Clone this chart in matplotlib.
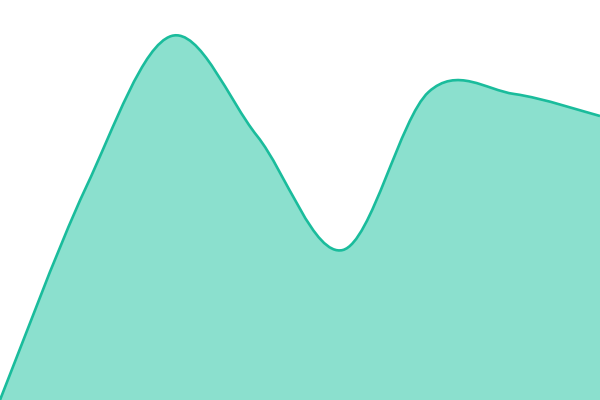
import matplotlib
matplotlib.use('Agg')
import matplotlib.pyplot as plt
from matplotlib.path import Path
from matplotlib.patches import PathPatch

# values (0 = bottom, 100 = top)
positions = [0, 1, 2, 3, 4, 5, 6, 7]
values = [0, 53, 91, 66, 37.5, 77, 76.5, 71]

line_color = '#1abc9c'
fill_color = '#8be0ce'


def smooth_path(xs, ys):
    # catmull-rom through the points, drawn as cubic bezier segments
    pts = list(zip(xs, ys))
    ext = [pts[0]] + pts + [pts[-1]]
    verts = [pts[0]]
    codes = [Path.MOVETO]
    for i in range(1, len(ext) - 2):
        p0, p1, p2, p3 = ext[i - 1], ext[i], ext[i + 1], ext[i + 2]
        c1 = (p1[0] + (p2[0] - p0[0]) / 6, p1[1] + (p2[1] - p0[1]) / 6)
        c2 = (p2[0] - (p3[0] - p1[0]) / 6, p2[1] - (p3[1] - p1[1]) / 6)
        verts += [c1, c2, p2]
        codes += [Path.CURVE4] * 3
    return verts, codes


fig = plt.figure(figsize=(6, 4), dpi=100)
ax = fig.add_axes([0, 0, 1, 1])

verts, codes = smooth_path(positions, values)
area_verts = verts + [(positions[-1], 0), (positions[0], 0), verts[0]]
area_codes = codes + [Path.LINETO, Path.LINETO, Path.CLOSEPOLY]
ax.add_patch(PathPatch(Path(area_verts, area_codes), facecolor=fill_color, edgecolor='none'))
ax.add_patch(PathPatch(Path(verts, codes), facecolor='none', edgecolor=line_color, lw=1.9))

ax.set_xlim(positions[0], positions[-1])
ax.set_ylim(0, 100)
ax.axis('off')

plt.savefig('out.png', dpi=100)
